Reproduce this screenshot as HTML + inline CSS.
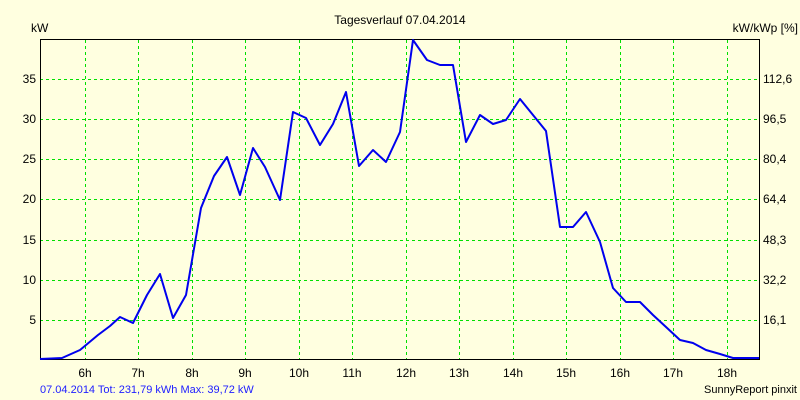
<!DOCTYPE html>
<html><head><style>body{margin:0;background:#FFFFE0}svg{display:block}text{font-family:"Liberation Sans",sans-serif;font-size:12px;fill:#000}</style></head><body>
<svg width="800" height="400" viewBox="0 0 800 400">
<rect width="800" height="400" fill="#FFFFE0"/>
<g stroke="#00E000" stroke-dasharray="3,3" stroke-width="1">
<line x1="85.5" y1="40" x2="85.5" y2="359"/><line x1="138.5" y1="40" x2="138.5" y2="359"/><line x1="192.5" y1="40" x2="192.5" y2="359"/><line x1="245.5" y1="40" x2="245.5" y2="359"/><line x1="299.5" y1="40" x2="299.5" y2="359"/><line x1="352.5" y1="40" x2="352.5" y2="359"/><line x1="406.5" y1="40" x2="406.5" y2="359"/><line x1="459.5" y1="40" x2="459.5" y2="359"/><line x1="513.5" y1="40" x2="513.5" y2="359"/><line x1="566.5" y1="40" x2="566.5" y2="359"/><line x1="620.5" y1="40" x2="620.5" y2="359"/><line x1="673.5" y1="40" x2="673.5" y2="359"/><line x1="727.5" y1="40" x2="727.5" y2="359"/>
<line x1="40" y1="320.5" x2="759" y2="320.5"/><line x1="40" y1="280.5" x2="759" y2="280.5"/><line x1="40" y1="240.5" x2="759" y2="240.5"/><line x1="40" y1="199.5" x2="759" y2="199.5"/><line x1="40" y1="159.5" x2="759" y2="159.5"/><line x1="40" y1="119.5" x2="759" y2="119.5"/><line x1="40" y1="79.5" x2="759" y2="79.5"/>
</g>
<rect x="40.5" y="39.5" width="719" height="320" fill="none" stroke="#000"/>
<polyline fill="none" stroke="#0000EE" stroke-width="2" stroke-linejoin="round" points="40,359 62,358 80,350 98,335 110,326 120,317 133,323 147,295 160,274 173,318 186,295 201,208 214,176 227,157 240,195 253,148 265,167 280,200 293,112 306,118 320,145 333,124 346,92 359,166 373,150 386,162 400,132 413,40 427,60 440,65 453,65 466,142 480,115 493,124 506,120 520,99 533,115 546,131 560,227 573,227 586,212 600,242 613,288 626,302 640,302 653,315 666,327 680,340 693,343 706,350 720,354 733,358 759,358"/>
<text x="400" y="24" text-anchor="middle">Tagesverlauf 07.04.2014</text>
<text x="31" y="32">kW</text>
<text x="798" y="32" text-anchor="end">kW/kWp [%]</text>
<g text-anchor="end"><text x="36" y="324">5</text><text x="36" y="284">10</text><text x="36" y="244">15</text><text x="36" y="203">20</text><text x="36" y="163">25</text><text x="36" y="123">30</text><text x="36" y="83">35</text></g>
<g><text x="763" y="324">16,1</text><text x="763" y="284">32,2</text><text x="763" y="244">48,3</text><text x="763" y="203">64,4</text><text x="763" y="163">80,4</text><text x="763" y="123">96,5</text><text x="763" y="83">112,6</text></g>
<g text-anchor="middle"><text x="85" y="377">6h</text><text x="138" y="377">7h</text><text x="192" y="377">8h</text><text x="245" y="377">9h</text><text x="299" y="377">10h</text><text x="352" y="377">11h</text><text x="406" y="377">12h</text><text x="459" y="377">13h</text><text x="513" y="377">14h</text><text x="566" y="377">15h</text><text x="620" y="377">16h</text><text x="673" y="377">17h</text><text x="727" y="377">18h</text></g>
<text x="40" y="393" style="fill:#2020FF;font-size:11px">07.04.2014 Tot: 231,79 kWh Max: 39,72 kW</text>
<text x="797" y="393" text-anchor="end" style="font-size:11px">SunnyReport pinxit</text>
</svg></body></html>
